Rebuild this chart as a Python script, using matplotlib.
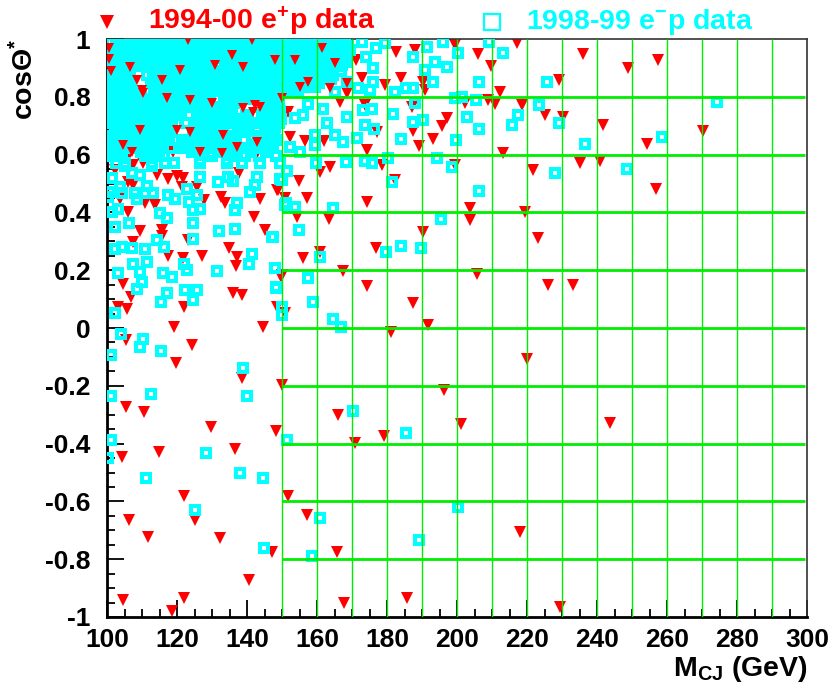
import matplotlib
matplotlib.use('Agg')
import matplotlib.pyplot as plt
from matplotlib.lines import Line2D
from matplotlib.ticker import MultipleLocator
import numpy as np

plt.rcParams['font.family'] = 'Liberation Sans'
plt.rcParams['font.weight'] = 'bold'
plt.rcParams['mathtext.fontset'] = 'custom'
for key in ['rm', 'it', 'bf', 'sf']:
    plt.rcParams['mathtext.' + key] = 'Liberation Sans:bold'

RED = '#ff0000'
CYAN = '#00ffff'
GREEN = '#00ee00'

# e+p events (1994-00), M_CJ in GeV and cos(theta*)
ep_high_mass = [217.1, 206.1, 209.6, 212.3, 218.5, 225.1, 210.9, 208.9, 202.3, 197.1,
                195.6, 193.2, 189.0, 187.5, 187.0, 190.3, 188.0, 182.5, 183.9, 199.4,
                213.2, 221.6, 219.4, 203.7, 203.7, 190.2, 199.4, 182.3, 174.2, 163.5,
                157.2, 154.9, 154.2, 163.7, 160.9, 178.5, 174.2, 162.0, 156.6, 152.3,
                151.8, 148.5, 148.7, 150.9, 166.6, 168.5, 173.7, 177.1, 171.1, 172.8,
                179.4, 190.9]
ep_high_cos = [0.985, 0.947, 0.908, 0.818, 0.770, 0.737, 0.775, 0.790, 0.780, 0.728,
               0.700, 0.654, 0.630, 0.680, 0.766, 0.852, 0.962, 0.956, 0.866, 0.979,
               0.605, 0.547, 0.400, 0.414, 0.374, 0.333, 0.564, 0.512, 0.437, 0.377,
               0.451, 0.509, 0.385, 0.558, 0.541, 0.564, 0.616, 0.647, 0.647, 0.662,
               0.746, 0.795, 0.477, 0.449, 0.783, 0.812, 0.772, 0.679, 0.927, 0.864,
               0.840, 0.824]

ep_tail_mass = [223.2, 176.9, 156.1, 160.9, 167.3, 205.6, 174.4, 226.1, 187.5, 191.8,
                181.0, 149.9, 150.9, 219.9, 149.9, 196.3, 165.9, 201.0, 148.3, 170.9,
                179.2, 151.8, 157.0, 165.8, 147.1, 218.0, 167.7, 185.8, 233.1, 243.7,
                229.4, 248.9, 257.5, 236.1, 229.0, 230.4, 241.8, 270.4, 254.2, 235.1,
                240.9, 256.9, 148.5]
ep_tail_cos = [0.310, 0.278, 0.243, 0.262, 0.197, 0.186, 0.146, 0.149, 0.085, 0.010,
               -0.015, 0.183, 0.051, -0.107, -0.197, -0.215, -0.300, -0.333, -0.356, -0.399,
               -0.373, -0.580, -0.647, -0.774, -0.776, -0.707, -0.953, -0.933, 0.149, -0.329,
               -0.965, 0.900, 0.927, 0.948, 0.858, 0.731, 0.702, 0.683, 0.637, 0.570,
               0.579, 0.480, 0.074]

ep_low_mass = [106.1, 109.4, 107.5, 115.6, 115.6, 123.2, 117.5, 127.1, 121.6, 134.9,
               137.0, 136.9, 142.0, 145.1, 149.6, 104.7, 106.8, 136.1, 138.5, 132.5,
               133.7, 143.7, 127.7, 106.1, 107.5, 110.9, 113.7, 103.7, 117.5, 119.9,
               121.8, 121.3, 125.6, 114.2, 137.8, 148.9, 142.8, 106.4, 118.9, 110.4,
               107.5, 102.3, 103.2, 105.6, 122.0, 119.1, 105.4, 124.2, 119.7, 144.7,
               138.5, 105.4, 110.7, 129.7, 104.2, 114.9, 136.6, 122.0, 106.4, 125.1,
               111.8, 132.3, 140.7, 104.5, 122.0, 118.5]
ep_low_cos = [0.402, 0.337, 0.299, 0.339, 0.318, 0.305, 0.249, 0.249, 0.241, 0.276,
              0.245, 0.215, 0.385, 0.339, 0.178, 0.152, 0.108, 0.120, 0.114, 0.454,
              0.431, 0.445, 0.443, 0.506, 0.495, 0.431, 0.426, 0.445, 0.514, 0.526,
              0.518, 0.489, 0.489, 0.529, 0.535, 0.478, 0.605, 0.599, 0.610, 0.570,
              0.564, 0.547, 0.074, 0.066, 0.074, 0.005, -0.042, -0.059, -0.122, 0.002,
              -0.172, -0.272, -0.292, -0.341, -0.445, -0.430, -0.419, -0.580, -0.664, -0.664,
              -0.722, -0.728, -0.872, -0.941, -0.935, -0.979]

# e+p events inside the crowded forward region, partly showing through the e-p cloud
ep_core_mass = [100.6, 100.7, 101.0, 106.6, 108.5, 110.0, 115.7, 120.9, 130.9, 135.7,
                138.9, 123.7, 130.0, 138.9, 143.7, 141.7, 150.0, 120.0, 123.7, 133.1,
                142.9, 137.1, 107.1, 117.1, 123.1, 141.4, 104.6, 110.4, 109.4, 126.6,
                132.8, 142.3, 165.1, 153.7, 148.0, 161.3, 168.5, 155.1, 157.5, 163.7]
ep_core_cos = [0.970, 0.930, 0.890, 0.903, 0.858, 0.824, 0.858, 0.893, 0.910, 0.945,
               0.903, 0.790, 0.780, 0.760, 0.764, 0.747, 0.796, 0.685, 0.678, 0.668,
               0.644, 0.626, 0.609, 0.796, 0.997, 0.997, 0.633, 0.812, 0.685, 0.610,
               0.604, 0.772, 0.917, 0.927, 0.927, 0.968, 0.847, 0.835, 0.852, 0.829]

# e-p events (1998-99)
em_high_mass = [196.1, 191.3, 200.2, 213.2, 209.2, 197.1, 193.7, 190.9, 187.5, 193.2,
                206.4, 225.8, 199.4, 201.3, 205.4, 223.5, 217.5, 215.6, 202.9, 206.2,
                199.7, 194.2, 198.5, 206.2, 195.3, 181.4, 180.4, 183.9, 187.5, 190.2,
                188.0, 181.6, 187.5, 185.4, 182.3, 175.9, 176.9, 179.4, 174.0, 176.1,
                171.8, 175.1, 168.5, 173.0, 175.6, 173.7, 176.3, 171.5, 167.3, 165.1,
                162.9, 161.8, 168.3, 173.7, 175.6, 159.7, 159.4, 159.4, 164.7, 153.7,
                151.1, 154.9, 151.5, 149.9, 149.4, 153.7, 156.1, 157.5, 152.3, 155.1,
                148.0, 163.7, 172.8, 167.0, 168.5, 165.1, 274.4, 258.5, 236.6, 248.5,
                228.0, 229.0]
em_high_cos = [0.991, 0.973, 0.950, 0.950, 0.991, 0.904, 0.921, 0.893, 0.939, 0.852,
               0.852, 0.852, 0.795, 0.800, 0.789, 0.770, 0.737, 0.702, 0.731, 0.689,
               0.651, 0.589, 0.558, 0.474, 0.377, 0.506, 0.589, 0.654, 0.714, 0.720,
               0.777, 0.740, 0.829, 0.829, 0.818, 0.899, 0.968, 0.985, 0.939, 0.852,
               0.829, 0.824, 0.731, 0.754, 0.758, 0.702, 0.689, 0.658, 0.645, 0.668,
               0.708, 0.758, 0.575, 0.578, 0.570, 0.570, 0.668, 0.633, 0.414, 0.420,
               0.431, 0.339, 0.543, 0.512, 0.570, 0.728, 0.737, 0.774, 0.627, 0.610,
               0.737, 0.991, 0.991, 0.910, 0.852, 0.818, 0.783, 0.662, 0.637, 0.549,
               0.537, 0.710]

em_tail_mass = [147.3, 179.7, 183.9, 189.7, 160.9, 148.0, 157.5, 148.3, 158.8, 149.9,
                149.9, 164.5, 166.8, 170.4, 151.3, 185.4, 160.9, 158.5, 189.1, 200.2]
em_tail_cos = [0.316, 0.264, 0.285, 0.278, 0.247, 0.207, 0.174, 0.137, 0.089, 0.074,
               0.045, 0.031, 0.005, -0.287, -0.388, -0.364, -0.656, -0.788, -0.734, -0.618]

em_low_mass = [116.6, 112.8, 105.1, 107.1, 109.4, 101.3, 103.7, 111.3, 108.0, 110.9,
               113.2, 100.9, 104.2, 108.5, 117.5, 119.4, 122.9, 125.6, 126.6, 131.8,
               134.7, 136.1, 137.1, 136.6, 140.9, 142.3, 142.9, 149.4, 150.9, 123.5,
               124.5, 124.7, 126.6, 115.1, 117.0, 103.2, 101.3, 106.4, 102.3, 132.1,
               136.6, 147.0, 114.4, 116.3, 110.9, 107.1, 104.2, 102.3, 124.5, 141.3,
               140.7, 111.3, 107.5, 122.0, 122.9, 131.5, 103.2, 109.4, 116.1, 118.5,
               148.0, 148.3, 109.9, 108.7, 117.0, 122.3, 125.6, 102.3, 115.4, 124.7,
               103.9, 110.2, 109.4, 115.3, 101.1, 138.8, 101.1, 112.5, 139.9, 101.1,
               100.4, 128.3, 111.1, 138.0, 144.7, 125.1, 144.9, 126.6, 129.4, 134.2,
               138.5, 143.7, 139.4, 100.4]
em_low_cos = [0.572, 0.561, 0.561, 0.535, 0.529, 0.518, 0.489, 0.491, 0.466, 0.466,
              0.468, 0.472, 0.466, 0.445, 0.460, 0.445, 0.480, 0.460, 0.521, 0.506,
              0.521, 0.510, 0.434, 0.408, 0.472, 0.495, 0.521, 0.514, 0.426, 0.437,
              0.408, 0.364, 0.411, 0.399, 0.380, 0.411, 0.402, 0.364, 0.351, 0.337,
              0.342, 0.316, 0.305, 0.279, 0.272, 0.276, 0.281, 0.272, 0.307, 0.256,
              0.221, 0.229, 0.221, 0.221, 0.201, 0.198, 0.191, 0.195, 0.189, 0.178,
              0.207, 0.141, 0.160, 0.134, 0.122, 0.131, 0.131, 0.051, 0.089, 0.097,
              -0.022, -0.038, -0.065, -0.079, -0.093, -0.137, -0.234, -0.227, -0.234, -0.388,
              -0.449, -0.431, -0.520, -0.503, -0.518, -0.630, -0.762, 0.581, 0.605, 0.581,
              0.570, 0.570, 0.599, 0.454]

# densely populated forward region, one row of masses per cos(theta*) band
em_core_cos = [0.990, 0.962, 0.933, 0.905, 0.876, 0.848, 0.820, 0.792,
               0.764, 0.736, 0.708, 0.680, 0.652, 0.624, 0.596, 0.572]
em_core_mass = [
    [101.2, 103.9, 106.3, 109.0, 111.8, 114.1, 117.0, 119.6, 122.4, 125.0, 127.7, 130.1, 132.9,
     135.6, 138.2, 140.8, 143.5, 146.1, 149.0, 151.7, 154.3, 157.0, 159.8, 162.5, 165.2, 167.9],
    [102.3, 105.1, 107.6, 110.5, 113.2, 115.7, 118.4, 121.1, 123.7, 126.5, 129.0, 131.8, 134.3,
     137.0, 139.6, 142.4, 144.9, 147.7, 150.4, 153.0, 155.6, 158.5, 161.1, 163.8, 166.4, 169.3],
    [102.0, 103.6, 106.2, 109.1, 111.7, 114.5, 117.1, 119.8, 122.3, 125.2, 127.8, 130.4, 133.0,
     135.9, 138.4, 141.0, 143.8, 146.4, 149.1, 151.8, 154.6, 157.2, 159.9, 162.4, 165.0, 167.8],
    [102.6, 104.8, 107.4, 110.2, 112.9, 115.4, 118.2, 120.7, 123.6, 126.1, 128.9, 131.5, 134.1,
     136.8, 139.5, 142.1, 144.7, 147.5, 150.2, 152.8, 155.5, 158.1, 160.7, 163.5, 166.2],
    [101.3, 103.9, 106.5, 111.4, 114.0, 116.8, 119.3, 122.0, 124.7, 127.3, 130.0, 132.6, 135.3,
     137.9, 140.6, 143.2, 146.0, 148.6, 151.3, 154.0, 156.6, 159.3, 162.0, 164.6],
    [102.4, 105.0, 112.6, 115.2, 118.0, 120.6, 123.3, 125.9, 128.6, 131.2, 133.9, 136.5, 139.3,
     141.8, 144.5, 147.2, 149.9, 152.5, 155.2, 158.0, 160.6],
    [101.1, 103.8, 106.4, 109.3, 111.9, 114.6, 117.3, 119.8, 122.6, 125.1, 127.9, 130.5, 133.2,
     135.8, 138.4, 141.2, 143.8, 146.5, 149.2, 151.9, 154.6],
    [102.2, 104.9, 107.5, 110.2, 112.8, 115.5, 118.3, 120.9, 126.2, 128.8, 131.6, 134.2, 136.9,
     139.6, 142.2, 144.9, 147.6],
    [101.0, 103.7, 106.3, 109.0, 111.6, 114.3, 117.0, 119.6, 122.3, 124.9, 127.6, 130.3, 132.9,
     135.6, 145.8, 148.5],
    [102.1, 104.8, 107.4, 110.1, 112.7, 115.4, 118.1, 120.8, 123.4, 126.0, 128.7, 131.4, 134.0,
     139.8, 142.5, 145.2, 147.9],
    [101.2, 103.9, 106.6, 109.2, 111.9, 114.5, 117.2, 119.9, 122.5, 125.1, 127.8, 130.5, 133.1,
     135.8, 138.5, 141.1, 143.8, 146.4, 149.1],
    [102.4, 105.0, 107.7, 112.9, 115.6, 118.2, 125.9, 128.6, 131.2, 135.5, 138.0, 140.6, 145.0,
     147.7],
    [101.1, 103.8, 106.5, 109.1, 111.8, 114.4, 117.1, 119.8, 122.4, 125.1, 127.7, 130.4, 133.0,
     135.7, 139.2, 145.8, 148.4],
    [102.3, 105.0, 107.6, 110.3, 113.0, 115.6, 118.2, 121.0, 123.6, 126.3, 128.9, 131.6, 134.2,
     136.9, 140.3, 143.4, 146.9],
    [101.0, 103.7, 110.8, 113.5, 116.2, 130.0, 136.4, 139.4, 143.5, 148.3],
    [102.6, 105.1, 112.8, 119.0, 126.6, 134.2, 138.5, 143.7],
]

# second set of bands lying between the ones above
em_fill_cos = [0.976, 0.947, 0.919, 0.890, 0.862, 0.834, 0.806,
               0.778, 0.750, 0.722, 0.694, 0.666, 0.638, 0.610]
em_fill_mass = [
    [102.5, 105.2, 107.8, 110.3, 113.1, 115.6, 118.3, 121.0, 126.3, 128.9, 131.5, 134.2,
     136.9, 139.5, 142.1, 144.8, 147.4, 150.1, 152.9, 155.5, 158.2, 160.8, 163.5, 166.1, 168.8],
    [101.4, 104.0, 106.8, 109.4, 112.1, 114.8, 117.4, 120.1, 122.8, 125.4, 128.1, 130.8, 133.4,
     138.8, 141.4, 144.1, 146.8, 149.4, 152.1, 154.8, 157.4, 162.8, 165.5, 168.2],
    [101.8, 104.3, 106.9, 109.6, 112.3, 114.9, 117.6, 120.2, 122.9, 125.6, 128.3, 133.6,
     136.3, 141.6, 144.3, 146.9, 149.6, 152.3, 155.0, 157.6, 160.3, 163.0, 165.7, 168.4],
    [102.8, 105.4, 113.5, 116.1, 118.8, 124.1, 126.8, 132.1, 134.7, 137.4,
     140.1, 142.8, 145.4, 148.1, 150.8, 153.4, 156.1, 158.8, 161.4, 164.1, 166.8],
    [101.9, 104.6, 113.2, 118.6, 121.3, 123.9, 126.6, 129.3, 131.9, 134.6, 137.2, 139.9,
     142.6, 145.3, 147.9, 150.6, 153.3, 158.6, 161.3, 163.9],
    [101.6, 104.2, 106.9, 113.9, 116.5, 119.2, 121.9, 124.5, 127.2, 129.9, 132.5, 135.2,
     137.8, 140.5, 143.2, 145.9, 148.5, 151.2, 153.9, 156.6, 159.3],
    [102.6, 105.3, 108.0, 113.3, 116.0, 121.3, 124.0, 126.6, 129.3, 134.6,
     137.3, 140.0, 142.6, 145.3, 148.0],
    [101.5, 104.2, 106.9, 109.5, 112.2, 114.9, 117.6, 120.2, 125.5, 128.2, 133.5,
     136.2, 146.3, 149.0],
    [102.4, 105.1, 107.8, 110.4, 113.1, 115.8, 118.4, 121.1, 126.4, 129.1, 131.7, 134.4,
     146.7, 149.3],
    [101.6, 104.3, 107.0, 109.6, 112.3, 115.0, 117.6, 125.6, 128.3, 130.9, 133.6,
     136.3, 139.0, 144.4, 147.0, 149.6],
    [102.7, 105.4, 108.0, 110.7, 113.4, 116.0, 118.7, 126.8, 129.4, 132.1, 137.4,
     140.1, 145.5, 148.1],
    [101.7, 104.4, 107.1, 109.8, 115.1, 117.8, 124.5, 127.2, 129.9, 136.6, 141.6, 147.0],
    [102.6, 105.3, 108.0, 110.7, 113.3, 116.0, 121.3, 124.0, 126.7, 129.3, 132.0, 134.7,
     144.6, 147.5],
    [101.5, 104.2, 109.6, 112.2, 114.9, 124.4, 133.0, 135.6, 141.2, 145.3],
]


def flatten(cos_rows, mass_rows):
    m = [v for row in mass_rows for v in row]
    c = [c for c, row in zip(cos_rows, mass_rows) for _ in row]
    return m, c


ep_mass = ep_high_mass + ep_tail_mass + ep_low_mass
ep_cos = ep_high_cos + ep_tail_cos + ep_low_cos
core_m, core_c = flatten(em_core_cos, em_core_mass)
fill_m, fill_c = flatten(em_fill_cos, em_fill_mass)
em_mass = em_high_mass + em_tail_mass + em_low_mass + core_m + fill_m
em_cos = em_high_cos + em_tail_cos + em_low_cos + core_c + fill_c

fig = plt.figure(figsize=(8.33, 6.88), dpi=100)
ax = fig.add_axes([0.1285, 0.1032, 0.8403, 0.8401])

ax.plot(ep_mass, ep_cos, ls='none', marker='v', ms=8.6, mfc=RED, mec=RED, mew=0, zorder=2)
ax.plot(em_mass, em_cos, ls='none', marker='s', ms=5.7, mfc='none', mec=CYAN, mew=2.9, zorder=3)
ax.plot(ep_core_mass, ep_core_cos, ls='none', marker='v', ms=7.0, mfc=RED, mec=RED, mew=0,
        zorder=3.5)

# search grid drawn over the events
ax.vlines(np.arange(150, 300, 10), -1, 1, colors=GREEN, lw=1.0, zorder=4)
ax.hlines(np.arange(-0.8, 0.81, 0.2), 150, 299.5, colors=GREEN, lw=2.0, zorder=4)

ax.set_xlim(100, 300)
ax.set_ylim(-1, 1)
ax.xaxis.set_major_locator(MultipleLocator(20))
ax.xaxis.set_minor_locator(MultipleLocator(5))
ax.yaxis.set_major_locator(MultipleLocator(0.2))
ax.yaxis.set_minor_locator(MultipleLocator(0.05))
ax.yaxis.set_major_formatter(plt.FuncFormatter(lambda v, p: f'{v:g}' if abs(v) > 1e-9 else '0'))
ax.tick_params(which='both', direction='in', top=False, right=False, width=1.3, labelsize=19)
ax.tick_params(which='major', length=12)
ax.tick_params(which='minor', length=6)
ax.tick_params(axis='x', pad=8)
ax.tick_params(axis='y', pad=12)
for lab in ax.get_xticklabels() + ax.get_yticklabels():
    lab.set_fontweight('bold')
for side in ['left', 'bottom']:
    ax.spines[side].set_linewidth(2.0)
for side in ['top', 'right']:
    ax.spines[side].set_linewidth(1.2)
    ax.spines[side].set_color('#333333')

fig.text(0.97, 0.017, r'M$_{\mathregular{CJ}}$ (GeV)', ha='right', va='baseline',
         fontsize=20.5, fontweight='bold')
fig.text(0.03, 0.943, r'cos$\Theta^{*}$', rotation=90, ha='center', va='top',
         fontsize=20.5, fontweight='bold')

# legend above the frame
fig.add_artist(Line2D([0.1285], [0.9685], transform=fig.transFigure, marker='v', ms=9.5,
                      mfc=RED, mec=RED, mew=0, ls='none'))
fig.text(0.178, 0.9685, r'1994-00 e$^{+}$p data', color=RED, fontsize=20.5,
         fontweight='bold', va='center')
fig.add_artist(Line2D([0.5905], [0.9685], transform=fig.transFigure, marker='s', ms=12,
                      mfc='none', mec=CYAN, mew=1.6, ls='none'))
fig.text(0.632, 0.9685, r'1998-99 e$^{-}$p data', color=CYAN, fontsize=20.5,
         fontweight='bold', va='center')

fig.savefig('out.png', dpi=100)
